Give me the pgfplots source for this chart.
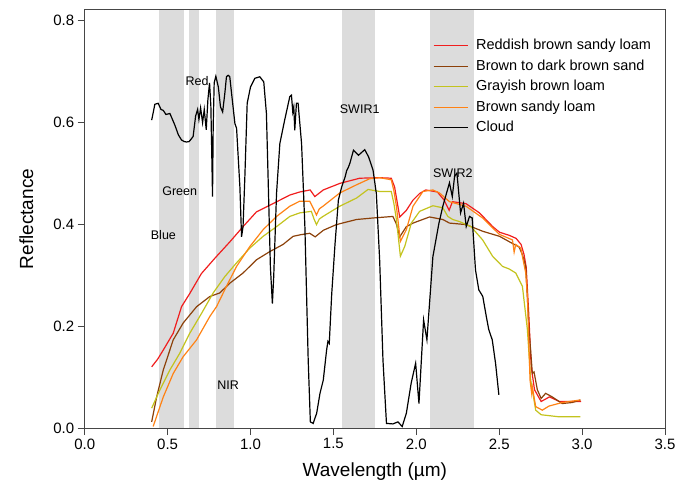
\documentclass[border=0pt]{standalone}
\usepackage{fontspec}
\setmainfont{Liberation Sans}
\usepackage{pgfplots}
\pgfplotsset{compat=1.18}
\definecolor{bandgray}{RGB}{220,220,220}
\definecolor{soilred}{RGB}{240,30,30}
\definecolor{soilbrown}{RGB}{140,65,10}
\definecolor{soilgray}{RGB}{195,195,30}
\definecolor{soilorange}{RGB}{255,130,20}
\definecolor{axgray}{RGB}{70,70,70}
\begin{document}
\begin{tikzpicture}
\begin{axis}[
  scale only axis, width=580.3pt, height=418pt,
  xmin=0, xmax=3.5, ymin=0, ymax=0.82,
  xtick={0,0.5,...,3.5}, ytick={0,0.2,0.4,0.6,0.8},
  xtick pos=bottom, ytick pos=left, tick align=outside,
  major tick length=7pt,
  axis line style={draw=axgray, line width=1pt},
  tick style={draw=axgray, line width=0.9pt},
  /pgf/number format/assume math mode=true,
  xticklabel style={/pgf/number format/.cd, fixed, fixed zerofill, precision=1},
  yticklabel style={/pgf/number format/.cd, fixed, fixed zerofill, precision=1},
  every tick label/.append style={font=\fontsize{15}{18}\selectfont},
  xlabel={Wavelength (µm)}, ylabel={Reflectance},
  every axis label/.append style={font=\fontsize{19}{22}\selectfont},
  xlabel style={at={(axis description cs:0.5,-0.117)}, anchor=base},
  ylabel style={at={(axis description cs:-0.089,0.5)}, anchor=base},
  legend image code/.code={\draw[#1] (0pt,0pt) -- (34pt,0pt);},
  legend style={at={(rel axis cs:0.5997,0.931)}, anchor=north west, draw=none, fill=none,
    inner sep=0pt, row sep=7pt, column sep=8pt,
    font=\fontsize{14.5}{17}\selectfont,
    nodes={inner sep=0pt, text height=10.5pt, text depth=3pt}},
  legend cell align=left,
]
% Landsat TM bands
\addplot[fill=bandgray, draw=none, forget plot] coordinates {(0.45,0.82) (0.60,0.82)} \closedcycle;
\addplot[fill=bandgray, draw=none, forget plot] coordinates {(0.63,0.82) (0.69,0.82)} \closedcycle;
\addplot[fill=bandgray, draw=none, forget plot] coordinates {(0.79,0.82) (0.90,0.82)} \closedcycle;
\addplot[fill=bandgray, draw=none, forget plot] coordinates {(1.55,0.82) (1.75,0.82)} \closedcycle;
\addplot[fill=bandgray, draw=none, forget plot] coordinates {(2.08,0.82) (2.35,0.82)} \closedcycle;

\addplot[soilred, line width=1.2pt] coordinates {
(0.404,0.12)(0.44,0.135)(0.474,0.153)(0.534,0.186)(0.584,0.238)(0.634,0.264)(0.704,0.303)(0.785,0.333)(0.875,0.365)(0.955,0.395)(1.036,0.424)(1.135,0.44)(1.237,0.457)(1.297,0.463)(1.36,0.467)(1.388,0.454)(1.439,0.467)(1.54,0.48)(1.659,0.49)(1.779,0.491)(1.849,0.49)(1.869,0.473)(1.90,0.414)(1.94,0.427)(1.98,0.447)(2.02,0.46)(2.057,0.467)(2.127,0.463)(2.168,0.447)(2.198,0.427)(2.218,0.444)(2.30,0.44)(2.381,0.422)(2.461,0.395)(2.502,0.384)(2.56,0.378)(2.602,0.372)(2.632,0.36)(2.65,0.34)(2.663,0.315)(2.678,0.225)(2.693,0.12)(2.713,0.075)(2.753,0.052)(2.803,0.061)(2.863,0.052)(2.994,0.052)};
\addlegendentry{Reddish brown sandy loam}

\addplot[soilbrown, line width=1.2pt] coordinates {
(0.404,0.012)(0.434,0.061)(0.474,0.114)(0.534,0.173)(0.594,0.206)(0.675,0.238)(0.755,0.258)(0.815,0.265)(0.875,0.284)(0.955,0.304)(1.036,0.33)(1.116,0.346)(1.196,0.36)(1.257,0.376)(1.30,0.379)(1.357,0.382)(1.39,0.375)(1.44,0.388)(1.518,0.399)(1.639,0.409)(1.739,0.412)(1.859,0.415)(1.88,0.40)(1.90,0.375)(1.94,0.395)(1.98,0.402)(2.08,0.414)(2.16,0.409)(2.20,0.402)(2.30,0.399)(2.40,0.386)(2.502,0.376)(2.58,0.362)(2.62,0.355)(2.64,0.34)(2.66,0.317)(2.68,0.193)(2.70,0.107)(2.71,0.11)(2.73,0.075)(2.753,0.058)(2.78,0.068)(2.82,0.061)(2.88,0.048)(2.94,0.05)(2.99,0.055)};
\addlegendentry{Brown to dark brown sand}

\addplot[soilgray, line width=1.2pt] coordinates {
(0.404,0.039)(0.454,0.075)(0.514,0.114)(0.574,0.147)(0.634,0.186)(0.705,0.225)(0.775,0.265)(0.845,0.297)(0.916,0.324)(0.996,0.353)(1.076,0.376)(1.157,0.395)(1.237,0.415)(1.297,0.422)(1.367,0.425)(1.383,0.41)(1.398,0.399)(1.415,0.41)(1.437,0.415)(1.538,0.435)(1.639,0.451)(1.709,0.468)(1.779,0.464)(1.849,0.464)(1.865,0.44)(1.88,0.409)(1.904,0.337)(1.93,0.356)(1.97,0.402)(2.02,0.425)(2.10,0.436)(2.16,0.432)(2.19,0.415)(2.22,0.409)(2.26,0.405)(2.33,0.395)(2.40,0.369)(2.46,0.337)(2.52,0.317)(2.56,0.312)(2.60,0.304)(2.64,0.278)(2.67,0.193)(2.69,0.094)(2.72,0.035)(2.753,0.026)(2.86,0.022)(2.99,0.022)};
\addlegendentry{Grayish brown loam}

\addplot[soilorange, line width=1.2pt] coordinates {
(0.413,0.003)(0.474,0.061)(0.534,0.107)(0.594,0.14)(0.675,0.173)(0.755,0.219)(0.795,0.238)(0.855,0.278)(0.916,0.317)(0.996,0.356)(1.076,0.389)(1.157,0.415)(1.237,0.435)(1.297,0.445)(1.357,0.445)(1.38,0.43)(1.398,0.418)(1.415,0.43)(1.437,0.435)(1.538,0.461)(1.639,0.477)(1.719,0.489)(1.779,0.491)(1.849,0.487)(1.865,0.465)(1.88,0.435)(1.904,0.366)(1.94,0.389)(1.98,0.435)(2.04,0.464)(2.10,0.467)(2.14,0.461)(2.20,0.444)(2.30,0.435)(2.40,0.412)(2.50,0.38)(2.58,0.369)(2.59,0.345)(2.60,0.36)(2.63,0.353)(2.66,0.304)(2.67,0.258)(2.686,0.094)(2.696,0.068)(2.70,0.08)(2.72,0.042)(2.76,0.035)(2.80,0.043)(2.88,0.05)(2.99,0.055)};
\addlegendentry{Brown sandy loam}

\addplot[black, line width=1.2pt] coordinates {
(0.404,0.604)(0.414,0.62)(0.423,0.635)(0.443,0.637)(0.46,0.625)(0.474,0.623)(0.49,0.615)(0.514,0.617)(0.544,0.594)(0.565,0.575)(0.584,0.565)(0.60,0.562)(0.614,0.561)(0.63,0.562)(0.645,0.568)(0.654,0.572)(0.669,0.612)(0.681,0.625)(0.689,0.605)(0.699,0.628)(0.711,0.599)(0.721,0.625)(0.733,0.585)(0.743,0.644)(0.753,0.677)(0.761,0.631)(0.767,0.527)(0.771,0.454)(0.775,0.592)(0.781,0.677)(0.791,0.69)(0.806,0.669)(0.819,0.630)(0.832,0.62)(0.845,0.656)(0.855,0.689)(0.865,0.692)(0.875,0.689)(0.886,0.656)(0.906,0.597)(0.916,0.588)(0.936,0.473)(0.946,0.375)(0.955,0.395)(0.966,0.493)(0.98,0.637)(1.0,0.669)(1.026,0.686)(1.056,0.689)(1.08,0.679)(1.096,0.617)(1.106,0.493)(1.12,0.316)(1.132,0.244)(1.14,0.297)(1.157,0.46)(1.177,0.558)(1.206,0.604)(1.237,0.65)(1.247,0.653)(1.255,0.62)(1.261,0.63)(1.267,0.584)(1.277,0.637)(1.287,0.637)(1.308,0.558)(1.328,0.395)(1.348,0.133)(1.361,0.012)(1.378,0.009)(1.399,0.029)(1.419,0.068)(1.439,0.094)(1.459,0.153)(1.467,0.17)(1.475,0.166)(1.49,0.264)(1.51,0.362)(1.53,0.447)(1.55,0.473)(1.571,0.493)(1.58,0.505)(1.591,0.512)(1.6,0.52)(1.621,0.545)(1.651,0.535)(1.689,0.546)(1.712,0.532)(1.739,0.506)(1.759,0.46)(1.779,0.329)(1.799,0.133)(1.82,0.009)(1.859,0.008)(1.889,0.012)(1.915,0.003)(1.94,0.029)(1.969,0.088)(1.996,0.127)(2.016,0.048)(2.044,0.212)(2.064,0.173)(2.10,0.336)(2.136,0.401)(2.16,0.435)(2.2,0.481)(2.217,0.454)(2.231,0.494)(2.245,0.50)(2.267,0.422)(2.285,0.441)(2.301,0.395)(2.321,0.415)(2.337,0.412)(2.357,0.31)(2.377,0.271)(2.401,0.258)(2.422,0.219)(2.437,0.193)(2.458,0.173)(2.478,0.127)(2.498,0.065)};
\addlegendentry{Cloud}

\node[anchor=west, font=\fontsize{12.5}{15}\selectfont, inner sep=0pt] at (axis cs:0.608,0.68) {Red};
\node[anchor=west, font=\fontsize{12.5}{15}\selectfont, inner sep=0pt] at (axis cs:0.467,0.464) {Green};
\node[anchor=west, font=\fontsize{12.5}{15}\selectfont, inner sep=0pt] at (axis cs:0.398,0.379) {Blue};
\node[anchor=west, font=\fontsize{12.5}{15}\selectfont, inner sep=0pt] at (axis cs:0.799,0.0845) {NIR};
\node[anchor=west, font=\fontsize{12.5}{15}\selectfont, inner sep=0pt] at (axis cs:1.538,0.625) {SWIR1};
\node[anchor=west, font=\fontsize{12.5}{15}\selectfont, inner sep=0pt] at (axis cs:2.10,0.50) {SWIR2};
\end{axis}
\pgfresetboundingbox
\path ([shift={(-84.7pt,-61pt)}]current axis.south west) rectangle ([shift={(26pt,10pt)}]current axis.north east);
\end{tikzpicture}
\end{document}
